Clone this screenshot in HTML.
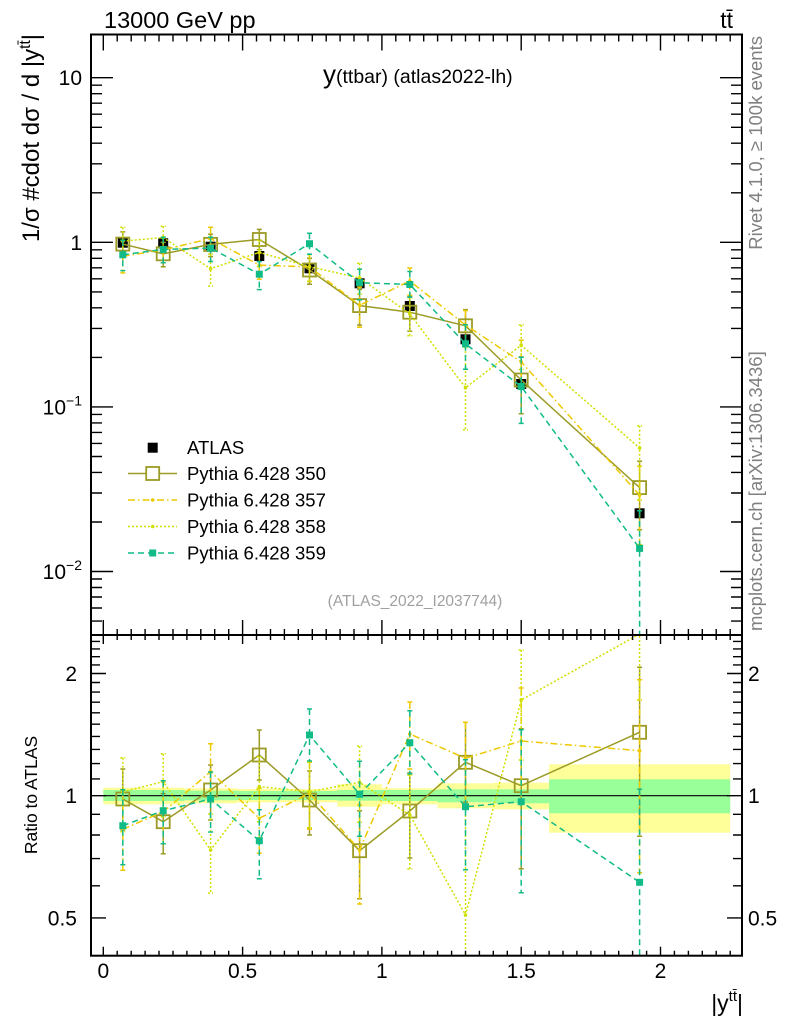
<!DOCTYPE html>
<html><head><meta charset="utf-8"><style>
html,body{margin:0;padding:0;background:#fff;}
svg{display:block;font-family:"Liberation Sans","DejaVu Sans",sans-serif;}
</style></head><body>
<svg width="786" height="1024" viewBox="0 0 786 1024" xmlns="http://www.w3.org/2000/svg">
<defs>
<clipPath id="cm"><rect x="91" y="34.5" width="651" height="600.5"/></clipPath>
<clipPath id="cr"><rect x="91" y="635" width="651" height="320.7"/></clipPath>
<path id="xmn" d="M117.2 0v1M131.2 0v1M145.1 0v1M159 0v1M173 0v1M186.9 0v1M200.8 0v1M214.7 0v1M228.7 0v1M256.5 0v1M270.5 0v1M284.4 0v1M298.3 0v1M312.3 0v1M326.2 0v1M340.1 0v1M354 0v1M368 0v1M395.8 0v1M409.8 0v1M423.7 0v1M437.6 0v1M451.6 0v1M465.5 0v1M479.4 0v1M493.3 0v1M507.3 0v1M535.1 0v1M549.1 0v1M563 0v1M576.9 0v1M590.9 0v1M604.8 0v1M618.7 0v1M632.6 0v1M646.6 0v1M674.4 0v1M688.4 0v1M702.3 0v1M716.2 0v1M730.2 0v1"/>
<path id="xmj" d="M103.3 0v1M242.6 0v1M381.9 0v1M521.2 0v1M660.5 0v1"/>
<path id="ymn" d="M0 85.2h1M0 93.7h1M0 103.2h1M0 114.2h1M0 127.3h1M0 143.2h1M0 163.8h1M0 192.8h1M0 249.8h1M0 258.3h1M0 267.8h1M0 278.8h1M0 291.9h1M0 307.8h1M0 328.4h1M0 357.4h1M0 414.4h1M0 422.9h1M0 432.4h1M0 443.4h1M0 456.5h1M0 472.4h1M0 493h1M0 522h1M0 579h1M0 587.5h1M0 597h1M0 608h1M0 621.1h1"/>
<path id="ymj" d="M0 77.7h1M0 242.3h1M0 406.9h1M0 571.5h1"/>
<path id="rmn" d="M0 641.4h1M0 648.9h1M0 656.7h1M0 664.9h1M0 682.5h1M0 692.1h1M0 702.2h1M0 712.8h1M0 724.2h1M0 736.4h1M0 749.4h1M0 763.6h1M0 778.9h1M0 814.3h1M0 835h1M0 858.6h1M0 885.8h1"/>
<path id="rmj" d="M0 673.5h1M0 795.7h1M0 917.9h1"/>
</defs>

<g clip-path="url(#cr)">
<g fill="#ffff99">
<rect x="103.3" y="787.7" width="80.8" height="16.6"/>
<rect x="184.1" y="788.3" width="52.9" height="15"/>
<rect x="237" y="789" width="100.3" height="13.3"/>
<rect x="337.3" y="784.3" width="44.6" height="22.4"/>
<rect x="381.9" y="788.3" width="55.7" height="16"/>
<rect x="437.6" y="783.3" width="55.7" height="25"/>
<rect x="493.3" y="782.7" width="55.8" height="26.6"/>
<rect x="549.1" y="764.3" width="181.1" height="68.4"/>
</g>
<g fill="#99ff99">
<rect x="103.3" y="790" width="80.8" height="11"/>
<rect x="184.1" y="790.7" width="52.9" height="9.6"/>
<rect x="237" y="791" width="100.3" height="9"/>
<rect x="337.3" y="790" width="44.6" height="10.7"/>
<rect x="381.9" y="790" width="55.7" height="11"/>
<rect x="437.6" y="789.3" width="55.7" height="13"/>
<rect x="493.3" y="789.3" width="55.8" height="14"/>
<rect x="549.1" y="779.3" width="181.1" height="34"/>
</g>
<line x1="103.3" y1="795.7" x2="730.2" y2="795.7" stroke="#000" stroke-width="1.2"/>
</g>

<g clip-path="url(#cm)" fill="none" stroke-width="1.5">
<g fill="#000" stroke="none">
<rect x="117.8" y="237.7" width="10" height="10"/>
<rect x="158.2" y="238.3" width="10" height="10"/>
<rect x="205.6" y="241.7" width="10" height="10"/>
<rect x="254.3" y="251" width="10" height="10"/>
<rect x="304.5" y="263.3" width="10" height="10"/>
<rect x="354.6" y="278.3" width="10" height="10"/>
<rect x="404.8" y="301" width="10" height="10"/>
<rect x="460.5" y="334.3" width="10" height="10"/>
<rect x="516.2" y="379" width="10" height="10"/>
<rect x="634.6" y="508.3" width="10" height="10"/>
</g>
<g stroke="#9b9b26">
<polyline points="122.8,244.1 163.2,253.8 210.6,244.4 259.3,239.5 309.5,270 359.6,305.6 409.8,312.2 465.5,325.8 521.2,380 639.6,487.6"/>
<path d="M122.8 231.9V256.7M120.3 231.9h5M120.3 256.7h5M163.2 242.4V266.8M160.7 242.4h5M160.7 266.8h5M210.6 234.3V256.6M208.1 234.3h5M208.1 256.6h5M259.3 229.4V249.6M256.8 229.4h5M256.8 249.6h5M309.5 258.2V284.2M307 258.2h5M307 284.2h5M359.6 289.4V325.1M357.1 289.4h5M357.1 325.1h5M409.8 296.8V331.3M407.3 296.8h5M407.3 331.3h5M465.5 309.6V342M463 309.6h5M463 342h5M521.2 356.9V413.7M518.7 356.9h5M518.7 413.7h5M639.6 461.2V529.8M637.1 461.2h5M637.1 529.8h5"/>
<g stroke-width="1.8">
<rect x="116.3" y="237.6" width="13" height="13"/>
<rect x="156.7" y="247.3" width="13" height="13"/>
<rect x="204.1" y="237.9" width="13" height="13"/>
<rect x="252.8" y="233" width="13" height="13"/>
<rect x="303" y="263.5" width="13" height="13"/>
<rect x="353.1" y="299.1" width="13" height="13"/>
<rect x="403.3" y="305.7" width="13" height="13"/>
<rect x="459" y="319.3" width="13" height="13"/>
<rect x="514.7" y="373.5" width="13" height="13"/>
<rect x="633.1" y="481.1" width="13" height="13"/>
</g>
</g>
<g stroke="#eec900" stroke-dasharray="7,3,1.5,3">
<polyline points="122.8,256.3 163.2,249.8 210.6,238.6 259.3,265.1 309.5,266.9 359.6,305.3 409.8,281 465.5,325.1 521.2,361.8 639.6,495.1"/>
<path d="M122.8 240.5V272.9M120.3 240.5h5M120.3 272.9h5M163.2 237.6V262.8M160.7 237.6h5M160.7 262.8h5M210.6 227.2V250.8M208.1 227.2h5M208.1 250.8h5M259.3 252.9V279.3M256.8 252.9h5M256.8 279.3h5M309.5 254.3V281.5M307 254.3h5M307 281.5h5M359.6 287.1V327.2M357.1 287.1h5M357.1 327.2h5M409.8 268V295.2M407.3 268h5M407.3 295.2h5M465.5 310.5V345.4M463 310.5h5M463 345.4h5M521.2 340.3V386.1M518.7 340.3h5M518.7 386.1h5M639.6 466.3V544.6M637.1 466.3h5M637.1 544.6h5"/>
</g>
<g fill="#eec900">
<circle cx="122.8" cy="256.3" r="1.8"/><circle cx="163.2" cy="249.8" r="1.8"/><circle cx="210.6" cy="238.6" r="1.8"/><circle cx="259.3" cy="265.1" r="1.8"/><circle cx="309.5" cy="266.9" r="1.8"/><circle cx="359.6" cy="305.3" r="1.8"/><circle cx="409.8" cy="281" r="1.8"/><circle cx="465.5" cy="325.1" r="1.8"/><circle cx="521.2" cy="361.8" r="1.8"/><circle cx="639.6" cy="495.1" r="1.8"/>
</g>
<g stroke="#d0e000" stroke-dasharray="2,2">
<polyline points="122.8,241.1 163.2,237.6 210.6,268.7 259.3,252.4 309.5,266.7 359.6,277.9 409.8,313.9 465.5,387.7 521.2,345.2 639.6,448"/>
<path d="M122.8 227.3V257.3M120.3 227.3h5M120.3 257.3h5M163.2 226.2V251.8M160.7 226.2h5M160.7 251.8h5M210.6 254.1V286.1M208.1 254.1h5M208.1 286.1h5M259.3 240.2V266.6M256.8 240.2h5M256.8 266.6h5M309.5 254.5V281.3M307 254.5h5M307 281.3h5M359.6 263.3V294.1M357.1 263.3h5M357.1 294.1h5M409.8 297.7V335.8M407.3 297.7h5M407.3 335.8h5M465.5 347.1V429.9M463 347.1h5M463 429.9h5M521.2 324.9V369.5M518.7 324.9h5M518.7 369.5h5M639.6 425.7V500M637.1 425.7h5M637.1 500h5"/>
</g>
<g fill="#d0e000">
<circle cx="122.8" cy="241.1" r="1.8"/><circle cx="163.2" cy="237.6" r="1.8"/><circle cx="210.6" cy="268.7" r="1.8"/><circle cx="259.3" cy="252.4" r="1.8"/><circle cx="309.5" cy="266.7" r="1.8"/><circle cx="359.6" cy="277.9" r="1.8"/><circle cx="409.8" cy="313.9" r="1.8"/><circle cx="465.5" cy="387.7" r="1.8"/><circle cx="521.2" cy="345.2" r="1.8"/><circle cx="639.6" cy="448" r="1.8"/>
</g>
<g stroke="#11bb88" stroke-dasharray="6,4">
<polyline points="122.8,254.8 163.2,249.4 210.6,248.1 259.3,274.2 309.5,243.7 359.6,282.7 409.8,284.5 465.5,343.8 521.2,386.5 639.6,548.4"/>
<path d="M122.8 240.2V270.6M120.3 240.2h5M120.3 270.6h5M163.2 237.2V262.8M160.7 237.2h5M160.7 262.8h5M210.6 237.2V261.5M208.1 237.2h5M208.1 261.5h5M259.3 261.6V289.6M256.8 261.6h5M256.8 289.6h5M309.5 233.2V254.2M307 233.2h5M307 254.2h5M359.6 269.3V299.7M357.1 269.3h5M357.1 299.7h5M409.8 271.5V297.1M407.3 271.5h5M407.3 297.1h5M465.5 324.7V369.3M463 324.7h5M463 369.3h5M521.2 357.3V423.4M518.7 357.3h5M518.7 423.4h5M639.6 510.7V640M637.1 510.7h5"/>
</g>
<g fill="#11bb88">
<rect x="119.3" y="251.3" width="7" height="7"/><rect x="159.7" y="245.9" width="7" height="7"/><rect x="207.1" y="244.6" width="7" height="7"/><rect x="255.8" y="270.7" width="7" height="7"/><rect x="306" y="240.2" width="7" height="7"/><rect x="356.1" y="279.2" width="7" height="7"/><rect x="406.3" y="281" width="7" height="7"/><rect x="462" y="340.3" width="7" height="7"/><rect x="517.7" y="383" width="7" height="7"/><rect x="636.1" y="544.9" width="7" height="7"/>
</g>
</g>

<g clip-path="url(#cr)" fill="none" stroke-width="1.5">
<g stroke="#9b9b26">
<polyline points="122.8,799 163.2,821.7 210.6,790 259.3,755 309.5,800 359.6,850.7 409.8,811 465.5,762.3 521.2,785.7 639.6,732.3"/>
<path d="M122.8 769V830M120.3 769h5M120.3 830h5M163.2 793.7V853.7M160.7 793.7h5M160.7 853.7h5M210.6 765V820M208.1 765h5M208.1 820h5M259.3 730V780M256.8 730h5M256.8 780h5M309.5 771V835M307 771h5M307 835h5M359.6 810.7V898.7M357.1 810.7h5M357.1 898.7h5M409.8 773V858M407.3 773h5M407.3 858h5M465.5 722.3V802.3M463 722.3h5M463 802.3h5M521.2 728.7V868.7M518.7 728.7h5M518.7 868.7h5M639.6 667.3V836.3M637.1 667.3h5M637.1 836.3h5"/>
<g stroke-width="1.8">
<rect x="116.3" y="792.5" width="13" height="13"/><rect x="156.7" y="815.2" width="13" height="13"/><rect x="204.1" y="783.5" width="13" height="13"/><rect x="252.8" y="748.5" width="13" height="13"/><rect x="303" y="793.5" width="13" height="13"/><rect x="353.1" y="844.2" width="13" height="13"/><rect x="403.3" y="804.5" width="13" height="13"/><rect x="459" y="755.8" width="13" height="13"/><rect x="514.7" y="779.2" width="13" height="13"/><rect x="633.1" y="725.8" width="13" height="13"/>
</g>
</g>
<g stroke="#eec900" stroke-dasharray="7,3,1.5,3">
<polyline points="122.8,829.3 163.2,811.7 210.6,771.7 259.3,818.3 309.5,793.3 359.6,850 409.8,734 465.5,758.3 521.2,741 639.6,750.7"/>
<path d="M122.8 790.3V870.3M120.3 790.3h5M120.3 870.3h5M163.2 781.7V843.7M160.7 781.7h5M160.7 843.7h5M210.6 743.7V801.7M208.1 743.7h5M208.1 801.7h5M259.3 788.3V853.3M256.8 788.3h5M256.8 853.3h5M309.5 762.3V829.3M307 762.3h5M307 829.3h5M359.6 805V904M357.1 805h5M357.1 904h5M409.8 702V769M407.3 702h5M407.3 769h5M465.5 722.3V808.3M463 722.3h5M463 808.3h5M521.2 688V801M518.7 688h5M518.7 801h5M639.6 679.7V872.7M637.1 679.7h5M637.1 872.7h5"/>
</g>
<g fill="#eec900">
<circle cx="122.8" cy="829.3" r="1.8"/><circle cx="163.2" cy="811.7" r="1.8"/><circle cx="210.6" cy="771.7" r="1.8"/><circle cx="259.3" cy="818.3" r="1.8"/><circle cx="309.5" cy="793.3" r="1.8"/><circle cx="359.6" cy="850" r="1.8"/><circle cx="409.8" cy="734" r="1.8"/><circle cx="465.5" cy="758.3" r="1.8"/><circle cx="521.2" cy="741" r="1.8"/><circle cx="639.6" cy="750.7" r="1.8"/>
</g>
<g stroke="#d0e000" stroke-dasharray="2,2">
<polyline points="122.8,791.7 163.2,781.7 210.6,850 259.3,786.7 309.5,791.7 359.6,782.3 409.8,815 465.5,915 521.2,700 639.6,634"/>
<path d="M122.8 757.7V831.7M120.3 757.7h5M120.3 831.7h5M163.2 753.7V816.7M160.7 753.7h5M160.7 816.7h5M210.6 814V893M208.1 814h5M208.1 893h5M259.3 756.7V821.7M256.8 756.7h5M256.8 821.7h5M309.5 761.7V827.7M307 761.7h5M307 827.7h5M359.6 746.3V822.3M357.1 746.3h5M357.1 822.3h5M409.8 775V869M407.3 775h5M407.3 869h5M465.5 815V960M521.2 650V760M518.7 650h5M518.7 760h5M639.6 600V700M637.1 700h5"/>
</g>
<g fill="#d0e000">
<circle cx="122.8" cy="791.7" r="1.8"/><circle cx="163.2" cy="781.7" r="1.8"/><circle cx="210.6" cy="850" r="1.8"/><circle cx="259.3" cy="786.7" r="1.8"/><circle cx="309.5" cy="791.7" r="1.8"/><circle cx="359.6" cy="782.3" r="1.8"/><circle cx="409.8" cy="815" r="1.8"/><circle cx="465.5" cy="915" r="1.8"/><circle cx="521.2" cy="700" r="1.8"/>
</g>
<g stroke="#11bb88" stroke-dasharray="6,4">
<polyline points="122.8,825.7 163.2,810.7 210.6,799 259.3,840.7 309.5,735 359.6,794.3 409.8,742.7 465.5,806.7 521.2,801.7 639.6,882.3"/>
<path d="M122.8 789.7V864.7M120.3 789.7h5M120.3 864.7h5M163.2 780.7V843.7M160.7 780.7h5M160.7 843.7h5M210.6 772V832M208.1 772h5M208.1 832h5M259.3 809.7V878.7M256.8 809.7h5M256.8 878.7h5M309.5 709V761M307 709h5M307 761h5M359.6 761.3V836.3M357.1 761.3h5M357.1 836.3h5M409.8 710.7V773.7M407.3 710.7h5M407.3 773.7h5M465.5 759.7V869.7M463 759.7h5M463 869.7h5M521.2 729.7V892.7M518.7 729.7h5M518.7 892.7h5M639.6 789.3V960M637.1 789.3h5"/>
</g>
<g fill="#11bb88">
<rect x="119.3" y="822.2" width="7" height="7"/><rect x="159.7" y="807.2" width="7" height="7"/><rect x="207.1" y="795.5" width="7" height="7"/><rect x="255.8" y="837.2" width="7" height="7"/><rect x="306" y="731.5" width="7" height="7"/><rect x="356.1" y="790.8" width="7" height="7"/><rect x="406.3" y="739.2" width="7" height="7"/><rect x="462" y="803.2" width="7" height="7"/><rect x="517.7" y="798.2" width="7" height="7"/><rect x="636.1" y="878.8" width="7" height="7"/>
</g>
</g>

<g stroke="#000" fill="none">
<rect x="91" y="34.5" width="651" height="600.5" stroke-width="2"/>
<rect x="91" y="635" width="651" height="320.7" stroke-width="2"/>
<g stroke-width="1.4">
<use href="#xmn" transform="translate(0,34.5) scale(1,7)"/>
<use href="#xmj" transform="translate(0,34.5) scale(1,16)"/>
<use href="#xmn" transform="translate(0,629) scale(1,11)"/>
<use href="#xmj" transform="translate(0,620) scale(1,24)"/>
<use href="#xmn" transform="translate(0,955.7) scale(1,-5)"/>
<use href="#xmj" transform="translate(0,955.7) scale(1,-9)"/>
<use href="#ymn" transform="translate(91,0) scale(11,1)"/>
<use href="#ymj" transform="translate(91,0) scale(22,1)"/>
<use href="#ymn" transform="translate(742,0) scale(-11,1)"/>
<use href="#ymj" transform="translate(742,0) scale(-22,1)"/>
<use href="#rmn" transform="translate(91,0) scale(9,1)"/>
<use href="#rmj" transform="translate(91,0) scale(15,1)"/>
<use href="#rmn" transform="translate(742,0) scale(-9,1)"/>
<use href="#rmj" transform="translate(742,0) scale(-15,1)"/>
</g>
</g>

<g fill="none" stroke-width="1.5">
<rect x="147.7" y="442.7" width="10" height="10" fill="#000" stroke="none"/>
<line x1="128" y1="473.5" x2="177" y2="473.5" stroke="#9b9b26"/>
<rect x="146.2" y="467" width="13" height="13" stroke="#9b9b26" stroke-width="1.8" fill="#fff"/>
<line x1="128" y1="500" x2="177" y2="500" stroke="#eec900" stroke-dasharray="7,3,1.5,3"/>
<circle cx="152.7" cy="500" r="1.8" fill="#eec900"/>
<line x1="128" y1="526.5" x2="177" y2="526.5" stroke="#d0e000" stroke-dasharray="2,2"/>
<circle cx="152.7" cy="526.5" r="1.8" fill="#d0e000"/>
<line x1="128" y1="553" x2="177" y2="553" stroke="#11bb88" stroke-dasharray="6,4"/>
<rect x="149.2" y="549.5" width="7" height="7" fill="#11bb88" stroke="none"/>
</g>
<g font-size="18.5" fill="#000">
<text x="187" y="454.2">ATLAS</text>
<text x="187" y="480">Pythia 6.428 350</text>
<text x="187" y="506.5">Pythia 6.428 357</text>
<text x="187" y="533">Pythia 6.428 358</text>
<text x="187" y="559.5">Pythia 6.428 359</text>
</g>

<text x="104" y="28" font-size="23.5">13000 GeV pp</text>
<text x="733" y="28" font-size="23" text-anchor="end">tt̄</text>
<text x="323" y="83"><tspan font-size="26">y</tspan><tspan font-size="19.5">(ttbar) (atlas2022-lh)</tspan></text>
<text transform="translate(39,34) rotate(-90)" text-anchor="end" font-size="24">1/σ #cdot dσ / d |y<tspan font-size="15.5" dy="-9">tt̄</tspan><tspan dy="9">|</tspan></text>
<text x="415" y="606" text-anchor="middle" font-size="15.5" fill="#a0a0a0">(ATLAS_2022_I2037744)</text>
<text transform="translate(762,36) rotate(-90)" text-anchor="end" font-size="18.5" fill="#808080">Rivet 4.1.0, ≥ 100k events</text>
<text transform="translate(762,631) rotate(-90)" font-size="18.5" fill="#808080">mcplots.cern.ch [arXiv:1306.3436]</text>
<text transform="translate(37,795) rotate(-90)" text-anchor="middle" font-size="17.5">Ratio to ATLAS</text>

<g font-size="21" text-anchor="end">
<text x="82" y="85.2">10</text>
<text x="82" y="249.8">1</text>
<text x="82" y="414.4">10<tspan font-size="14" dy="-9">−1</tspan></text>
<text x="82" y="579">10<tspan font-size="14" dy="-9">−2</tspan></text>
<text x="77" y="681">2</text>
<text x="77" y="803.2">1</text>
<text x="77" y="925.4">0.5</text>
</g>
<g font-size="21">
<text x="748" y="681">2</text>
<text x="748" y="803.2">1</text>
<text x="748" y="925.4">0.5</text>
</g>
<g font-size="21" text-anchor="middle">
<text x="103.3" y="978">0</text>
<text x="242.6" y="978">0.5</text>
<text x="381.9" y="978">1</text>
<text x="521.2" y="978">1.5</text>
<text x="660.5" y="978">2</text>
</g>
<text x="743" y="1011" font-size="23" text-anchor="end">|y<tspan font-size="15" dy="-10">tt̄</tspan><tspan dy="10">|</tspan></text>
</svg>
</body></html>
